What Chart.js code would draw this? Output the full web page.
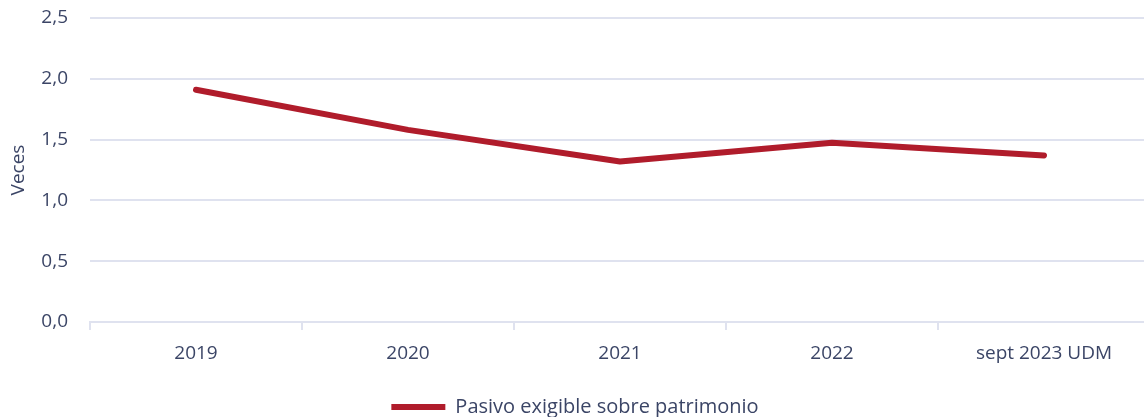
<!DOCTYPE html>
<html>
<head>
<meta charset="utf-8">
<script src="https://cdn.jsdelivr.net/npm/chart.js@4.4.0/dist/chart.umd.min.js"></script>
<style>
  html, body { margin: 0; padding: 0; background: #fff; overflow: hidden; }
  #wrap { width: 1150px; height: 417px; }
</style>
</head>
<body>
<div id="wrap"><canvas id="grafico"></canvas></div>
<script>
// datos
var categorias = ["2019", "2020", "2021", "2022", "sept 2023 UDM"];
var pasivoSobrePatrimonio = [1.91, 1.58, 1.32, 1.475, 1.37];
var ticksY = [0, 0.5, 1, 1.5, 2, 2.5];

var colorTexto = "#3b4566";
var colorGrilla = "#dfe2ef";
var fuente = "'Open Sans', 'Noto Sans', sans-serif";

var ctx = document.getElementById("grafico").getContext("2d");

var grafico = new Chart(ctx, {
	type: "line",
	data: {
		labels: categorias,
		datasets: [{
			label: "Pasivo exigible sobre patrimonio",
			data: pasivoSobrePatrimonio,
			borderColor: "#b01c2b",
			backgroundColor: "#b01c2b",
			borderWidth: 6,
			borderCapStyle: "round",
			borderJoinStyle: "round",
			pointRadius: 0,
			pointHoverRadius: 0,
			pointStyle: "line",
			tension: 0
		}]
	},
	options: {
		responsive: true,
		maintainAspectRatio: false,
		animation: false,
		layout: { padding: { top: 18, right: 0, bottom: -10, left: 0 } },
		plugins: {
			legend: {
				position: "bottom",
				labels: {
					usePointStyle: true,
					pointStyleWidth: 54,
					boxHeight: 6,
					padding: 0,
					color: colorTexto,
					font: { family: fuente, size: 20 }
				}
			},
			tooltip: { enabled: false }
		},
		scales: {
			x: {
				offset: true,
				afterFit: function(scale) { scale.height = 75; },
				grid: {
					offset: true,
					drawOnChartArea: false,
					drawTicks: true,
					tickLength: 8,
					color: colorGrilla,
					lineWidth: 2
				},
				border: { display: true, color: colorGrilla, width: 2 },
				ticks: {
					color: colorTexto,
					font: { family: fuente, size: 19 },
					padding: 12,
					maxRotation: 0
				}
			},
			y: {
				min: 0,
				max: 2.5,
				afterBuildTicks: function(scale) {
					scale.ticks = ticksY.map(function(v) { return { value: v }; });
				},
				afterFit: function(scale) {
					scale.width = 90;
					scale.paddingTop = 0;
					scale.paddingBottom = 0;
				},
				grid: {
					drawTicks: false,
					color: colorGrilla,
					lineWidth: 2
				},
				border: { display: false },
				ticks: {
					color: colorTexto,
					font: { family: fuente, size: 19 },
					padding: 22,
					callback: function(v) { return Number(v).toFixed(1).replace(".", ","); }
				},
				title: {
					display: true,
					text: "Veces",
					color: colorTexto,
					font: { family: fuente, size: 19 },
					padding: { top: 7, bottom: 0 }
				}
			}
		}
	}
});
</script>
</body>
</html>
